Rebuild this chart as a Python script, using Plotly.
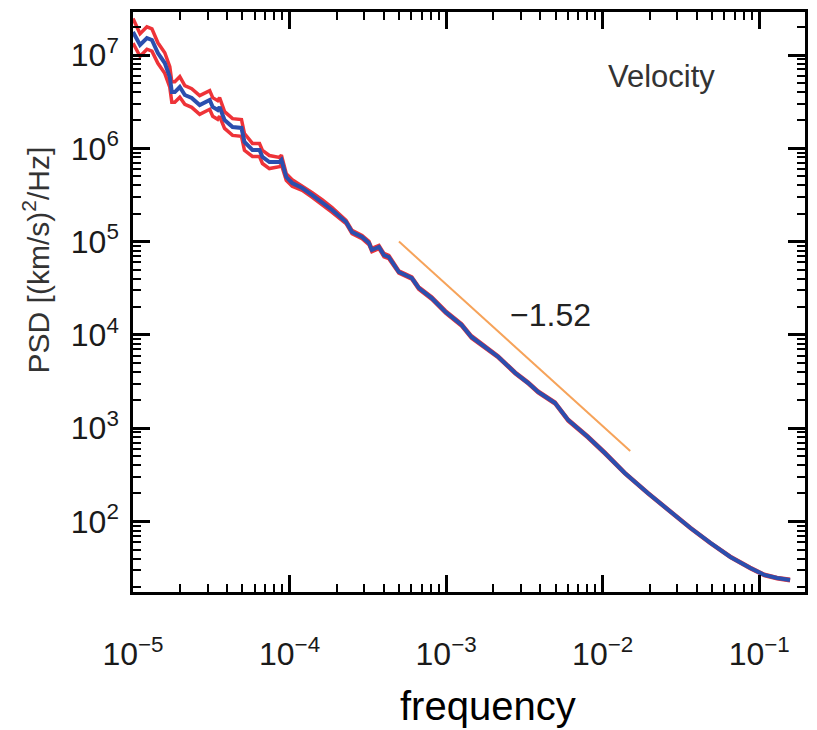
import math
import plotly.graph_objects as go

# log10 of frequency
log_freq = [-5.000, -4.955, -4.911, -4.879, -4.841, -4.797, -4.765, -4.752, -4.733, -4.701,
            -4.669, -4.625, -4.574, -4.529, -4.510, -4.491, -4.459, -4.447, -4.415, -4.364,
            -4.307, -4.288, -4.237, -4.192, -4.173, -4.129, -4.065, -4.052, -4.021, -3.983,
            -3.919, -3.855, -3.792, -3.728, -3.639, -3.601, -3.537, -3.493, -3.474, -3.429,
            -3.397, -3.366, -3.302, -3.219, -3.175, -3.092, -3.003, -2.901, -2.838, -2.749,
            -2.666, -2.558, -2.475, -2.412, -2.304, -2.221, -2.094, -1.986, -1.859, -1.712,
            -1.566, -1.439, -1.312, -1.184, -1.057, -0.968, -0.886, -0.803]
# log10 of PSD (blue, estimate)
log_psd = [7.247, 7.107, 7.182, 7.161, 7.021, 6.914, 6.764, 6.603, 6.603, 6.657,
           6.571, 6.539, 6.464, 6.496, 6.518, 6.443, 6.411, 6.443, 6.303, 6.228,
           6.218, 6.068, 5.982, 5.982, 5.907, 5.853, 5.853, 5.875, 5.692, 5.628,
           5.574, 5.499, 5.424, 5.339, 5.210, 5.103, 5.049, 4.985, 4.910, 4.942,
           4.856, 4.835, 4.674, 4.610, 4.503, 4.395, 4.245, 4.106, 3.978, 3.870,
           3.763, 3.592, 3.484, 3.388, 3.270, 3.088, 2.906, 2.734, 2.520, 2.305,
           2.102, 1.930, 1.770, 1.620, 1.502, 1.427, 1.394, 1.373]
# log10 of upper confidence bound (red)
log_upper = [7.390, 7.227, 7.302, 7.281, 7.131, 7.024, 6.874, 6.713, 6.713, 6.767,
             6.671, 6.639, 6.564, 6.596, 6.618, 6.543, 6.511, 6.543, 6.393, 6.318,
             6.308, 6.158, 6.052, 6.052, 5.977, 5.923, 5.903, 5.925, 5.727, 5.663,
             5.599, 5.524, 5.449, 5.364, 5.228, 5.121, 5.067, 5.003, 4.928, 4.960,
             4.874, 4.853, 4.687, 4.623, 4.516, 4.408, 4.258, 4.119, 3.991, 3.883,
             3.773, 3.602, 3.494, 3.398, 3.280, 3.098, 2.916, 2.744, 2.527, 2.312,
             2.109, 1.937, 1.777, 1.627, 1.509, 1.434, 1.401, 1.380]
# log10 of lower confidence bound (red)
log_lower = [7.127, 6.987, 7.062, 7.041, 6.911, 6.804, 6.654, 6.493, 6.493, 6.547,
             6.471, 6.439, 6.364, 6.396, 6.418, 6.343, 6.311, 6.343, 6.213, 6.138,
             6.128, 5.978, 5.912, 5.912, 5.837, 5.783, 5.803, 5.825, 5.657, 5.593,
             5.549, 5.474, 5.399, 5.314, 5.192, 5.085, 5.031, 4.967, 4.892, 4.924,
             4.838, 4.817, 4.661, 4.597, 4.490, 4.382, 4.232, 4.093, 3.965, 3.857,
             3.753, 3.582, 3.474, 3.378, 3.260, 3.078, 2.896, 2.724, 2.513, 2.298,
             2.095, 1.923, 1.763, 1.613, 1.495, 1.420, 1.387, 1.366]

fit_freq = [5e-4, 1.5e-2]
fit_psd = [1.0e5, 570]
fit_label = "−1.52"

x_tickvals = [1e-5, 1e-4, 1e-3, 1e-2, 1e-1]
x_ticktext = ["10<sup>−5</sup>", "10<sup>−4</sup>", "10<sup>−3</sup>", "10<sup>−2</sup>", "10<sup>−1</sup>"]
y_tickvals = [1e2, 1e3, 1e4, 1e5, 1e6, 1e7]
y_ticktext = ["10<sup>2</sup>", "10<sup>3</sup>", "10<sup>4</sup>", "10<sup>5</sup>", "10<sup>6</sup>", "10<sup>7</sup>"]

X_RANGE = [-5, -0.7075]
Y_RANGE = [1.2444, 7.4609]

freq = [10 ** v for v in log_freq]
psd = [10 ** v for v in log_psd]
upper = [10 ** v for v in log_upper]
lower = [10 ** v for v in log_lower]

x_minor = [k * 10.0 ** e for e in range(-6, 0) for k in range(2, 10)
           if X_RANGE[0] < math.log10(k) + e < X_RANGE[1]]
y_minor = [k * 10.0 ** e for e in range(1, 8) for k in range(2, 10)
           if Y_RANGE[0] < math.log10(k) + e < Y_RANGE[1]]

RED = "#ee3338"
BLUE = "#2b4fae"

fig = go.Figure()
for ys in (upper, lower):
    fig.add_trace(go.Scatter(x=freq, y=ys, mode="lines",
                             line=dict(color=RED, width=3.5), showlegend=False))
fig.add_trace(go.Scatter(x=freq, y=psd, mode="lines",
                         line=dict(color=BLUE, width=4), showlegend=False))
fig.add_trace(go.Scatter(x=fit_freq, y=fit_psd, mode="lines",
                         line=dict(color="#f6a35a", width=2), showlegend=False))
# invisible trace bound to the overlay axes so they get drawn
fig.add_trace(go.Scatter(x=[x_minor[0]], y=[y_minor[0]], mode="markers", xaxis="x2", yaxis="y2",
                         marker=dict(size=1, opacity=0), hoverinfo="skip", showlegend=False))

tickfont = dict(family="Liberation Sans, Arial, sans-serif", size=32, color="#1a1a1a")
axis_common = dict(
    type="log", showline=True, linecolor="black", linewidth=2.5, mirror="allticks",
    ticks="inside", ticklen=17, tickwidth=2.5, tickcolor="black",
    showgrid=False, zeroline=False, tickfont=tickfont,
)
minor_axis = dict(
    type="log", showline=False, mirror="allticks", ticks="inside", ticklen=8,
    tickwidth=2, tickcolor="black", showticklabels=False, showgrid=False,
    zeroline=False, fixedrange=True,
)
fig.update_layout(
    xaxis=dict(**axis_common, range=X_RANGE, tickvals=x_tickvals, ticktext=x_ticktext,
               ticklabelstandoff=32),
    yaxis=dict(**axis_common, range=Y_RANGE, tickvals=y_tickvals, ticktext=y_ticktext,
               ticklabelstandoff=5),
    xaxis2=dict(**minor_axis, overlaying="x", side="bottom", range=X_RANGE, tickvals=x_minor),
    yaxis2=dict(**minor_axis, overlaying="y", side="left", range=Y_RANGE, tickvals=y_minor),
)

fig.add_annotation(text="PSD [(km/s)<sup>2</sup>/Hz]", textangle=-90, xref="paper", yref="paper",
                   x=-0.1437, y=0.5724, xanchor="center", yanchor="middle", showarrow=False,
                   font=dict(family="Liberation Sans, Arial, sans-serif", size=30, color="#333333"))
fig.add_annotation(text="frequency", xref="paper", yref="paper", x=0.5289, y=-0.196,
                   xanchor="center", yanchor="middle", showarrow=False,
                   font=dict(family="Liberation Sans, Arial, sans-serif", size=40, color="black"))
fig.add_annotation(text="Velocity", xref="paper", yref="paper", x=0.7867, y=0.888,
                   xanchor="center", yanchor="middle", showarrow=False,
                   font=dict(family="Liberation Sans, Arial, sans-serif", size=31, color="#333333"))
fig.add_annotation(text=fit_label, xref="paper", yref="paper", x=0.6207, y=0.4776,
                   xanchor="center", yanchor="middle", showarrow=False,
                   font=dict(family="Liberation Sans, Arial, sans-serif", size=32, color="#222222"))

fig.update_layout(width=817, height=730, margin=dict(l=133, r=9, t=12, b=138),
                  plot_bgcolor="white", paper_bgcolor="white", showlegend=False)
fig.write_html("out.html")
